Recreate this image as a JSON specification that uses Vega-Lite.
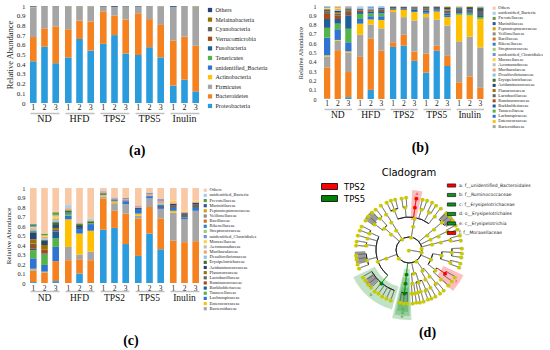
{
  "$schema": "https://vega.github.io/schema/vega-lite/v6.json",
  "padding": {"left": 4, "top": 2, "right": 0, "bottom": 0},
  "background": "white",
  "config": {"view": {"stroke": null}, "axis": {"grid": false}, "title": {"color": "#000"}},
  "datasets": {
    "taxA": [
      {"k": "p1", "t": "Proteobacteria", "i": 1}, {"k": "p2", "t": "Bacteroidetes", "i": 2}, {"k": "p3", "t": "Firmicutes", "i": 3},
      {"k": "p4", "t": "Actinobacteria", "i": 4}, {"k": "p5", "t": "unidentified_Bacteria", "i": 5}, {"k": "p6", "t": "Tenericutes", "i": 6},
      {"k": "p7", "t": "Fusobacteria", "i": 7}, {"k": "p8", "t": "Verrucomicrobia", "i": 8}, {"k": "p9", "t": "Cyanobacteria", "i": 9},
      {"k": "p10", "t": "Melainabacteria", "i": 10}, {"k": "p11", "t": "Others", "i": 11}
    ],
    "taxB": [
      {"k": "s1", "t": "Enterobacteriaceae", "i": 1}, {"k": "s2", "t": "Porphyromonadaceae", "i": 2}, {"k": "s3", "t": "Bacteroidaceae", "i": 3},
      {"k": "s4", "t": "Enterococcaceae", "i": 4}, {"k": "s5", "t": "Lachnospiraceae", "i": 5}, {"k": "s6", "t": "Tannerellaceae", "i": 6},
      {"k": "s7", "t": "Burkholderiaceae", "i": 7}, {"k": "s8", "t": "Ruminococcaceae", "i": 8}, {"k": "s9", "t": "Lactobacillaceae", "i": 9},
      {"k": "s10", "t": "Planococcaceae", "i": 10}, {"k": "s11", "t": "Acidaminococcaceae", "i": 11}, {"k": "s12", "t": "Erysipelotrichaceae", "i": 12},
      {"k": "s13", "t": "Desulfovibrionaceae", "i": 13}, {"k": "s14", "t": "Muribaculaceae", "i": 14}, {"k": "s15", "t": "Aeromonadaceae", "i": 15},
      {"k": "s16", "t": "Moraxellaceae", "i": 16}, {"k": "s17", "t": "unidentified_Clostridiales", "i": 17}, {"k": "s18", "t": "Streptococcaceae", "i": 18},
      {"k": "s19", "t": "Rikenellaceae", "i": 19}, {"k": "s20", "t": "Bacillaceae", "i": 20}, {"k": "s21", "t": "Veillonellaceae", "i": 21},
      {"k": "s22", "t": "Peptostreptococcaceae", "i": 22}, {"k": "s23", "t": "Marinifilaceae", "i": 23}, {"k": "s24", "t": "Prevotellaceae", "i": 24},
      {"k": "s25", "t": "unidentified_Bacteria", "i": 25}, {"k": "s26", "t": "Others", "i": 26}
    ],
    "phylum": [
      {"g": "ND", "r": "1", "p1": 0.43, "p2": 0.25, "p3": 0.305, "p4": 0.003, "p5": 0.004, "p6": 0.002, "p11": 0.006},
      {"g": "ND", "r": "2", "p1": 0.58, "p2": 0.19, "p3": 0.222, "p4": 0.004, "p11": 0.004},
      {"g": "ND", "r": "3", "p1": 0.41, "p2": 0.38, "p3": 0.202, "p4": 0.004, "p11": 0.004},
      {"g": "HFD", "r": "1", "p1": 0.47, "p2": 0.29, "p3": 0.236, "p4": 0.002, "p11": 0.002},
      {"g": "HFD", "r": "2", "p1": 0.66, "p2": 0.19, "p3": 0.146, "p4": 0.002, "p11": 0.002},
      {"g": "HFD", "r": "3", "p1": 0.54, "p2": 0.30, "p3": 0.155, "p4": 0.003, "p11": 0.002},
      {"g": "TPS2", "r": "1", "p1": 0.61, "p2": 0.335, "p3": 0.05, "p11": 0.005},
      {"g": "TPS2", "r": "2", "p1": 0.70, "p2": 0.20, "p3": 0.088, "p5": 0.004, "p11": 0.008},
      {"g": "TPS2", "r": "3", "p1": 0.51, "p2": 0.35, "p3": 0.136, "p11": 0.004},
      {"g": "TPS5", "r": "1", "p1": 0.495, "p2": 0.43, "p3": 0.07, "p11": 0.005},
      {"g": "TPS5", "r": "2", "p1": 0.575, "p2": 0.29, "p3": 0.13, "p4": 0.002, "p11": 0.003},
      {"g": "TPS5", "r": "3", "p1": 0.47, "p2": 0.335, "p3": 0.19, "p4": 0.003, "p11": 0.002},
      {"g": "Inulin", "r": "1", "p1": 0.18, "p2": 0.465, "p3": 0.343, "p5": 0.004, "p11": 0.008},
      {"g": "Inulin", "r": "2", "p1": 0.24, "p2": 0.445, "p3": 0.31, "p4": 0.002, "p11": 0.003},
      {"g": "Inulin", "r": "3", "p1": 0.12, "p2": 0.47, "p3": 0.405, "p4": 0.003, "p11": 0.002}
    ],
    "famB": [
      {"g": "ND", "r": "1", "s1": 0.005, "s2": 0.335, "s3": 0.117, "s4": 0.013, "s5": 0.19, "s6": 0.105, "s7": 0.095, "s8": 0.055, "s9": 0.02, "s10": 0.01, "s11": 0.01, "s12": 0.01, "s14": 0.008, "s16": 0.007, "s19": 0.006, "s21": 0.005, "s24": 0.004, "s25": 0.005},
      {"g": "ND", "r": "2", "s2": 0.525, "s3": 0.102, "s4": 0.008, "s5": 0.115, "s6": 0.06, "s7": 0.05, "s8": 0.04, "s9": 0.02, "s10": 0.015, "s11": 0.012, "s13": 0.01, "s14": 0.01, "s16": 0.01, "s18": 0.008, "s20": 0.005, "s22": 0.005, "s26": 0.005},
      {"g": "ND", "r": "3", "s1": 0.02, "s2": 0.27, "s3": 0.21, "s4": 0.012, "s5": 0.098, "s6": 0.145, "s7": 0.145, "s8": 0.025, "s9": 0.02, "s10": 0.01, "s11": 0.01, "s12": 0.01, "s14": 0.008, "s17": 0.007, "s19": 0.005, "s26": 0.005},
      {"g": "HFD", "r": "1", "s2": 0.453, "s3": 0.237, "s4": 0.12, "s5": 0.05, "s6": 0.055, "s7": 0.02, "s8": 0.015, "s9": 0.01, "s11": 0.01, "s13": 0.015, "s25": 0.01, "s26": 0.005},
      {"g": "HFD", "r": "2", "s1": 0.098, "s2": 0.554, "s3": 0.148, "s4": 0.055, "s5": 0.035, "s6": 0.03, "s7": 0.02, "s8": 0.015, "s9": 0.01, "s13": 0.015, "s17": 0.01, "s25": 0.01},
      {"g": "HFD", "r": "3", "s2": 0.52, "s3": 0.24, "s4": 0.09, "s5": 0.04, "s6": 0.03, "s7": 0.025, "s8": 0.015, "s9": 0.01, "s11": 0.01, "s13": 0.01, "s25": 0.01},
      {"g": "TPS2", "r": "1", "s1": 0.56, "s2": 0.05, "s3": 0.325, "s4": 0.025, "s7": 0.01, "s9": 0.01, "s11": 0.01, "s12": 0.005, "s26": 0.005},
      {"g": "TPS2", "r": "2", "s1": 0.573, "s2": 0.117, "s3": 0.19, "s4": 0.08, "s7": 0.01, "s9": 0.01, "s11": 0.01, "s14": 0.005, "s26": 0.005},
      {"g": "TPS2", "r": "3", "s1": 0.41, "s2": 0.1, "s3": 0.335, "s4": 0.09, "s5": 0.01, "s7": 0.015, "s9": 0.015, "s11": 0.01, "s12": 0.008, "s26": 0.007},
      {"g": "TPS5", "r": "1", "s1": 0.283, "s2": 0.207, "s3": 0.39, "s4": 0.037, "s5": 0.015, "s7": 0.02, "s9": 0.015, "s10": 0.01, "s11": 0.01, "s12": 0.008, "s26": 0.005},
      {"g": "TPS5", "r": "2", "s1": 0.518, "s2": 0.054, "s3": 0.283, "s4": 0.085, "s5": 0.01, "s7": 0.015, "s9": 0.015, "s11": 0.01, "s12": 0.005, "s26": 0.005},
      {"g": "TPS5", "r": "3", "s1": 0.355, "s2": 0.109, "s3": 0.326, "s4": 0.09, "s5": 0.02, "s7": 0.02, "s9": 0.03, "s10": 0.015, "s11": 0.015, "s12": 0.01, "s26": 0.01},
      {"g": "Inulin", "r": "1", "s2": 0.18, "s3": 0.44, "s4": 0.285, "s6": 0.015, "s7": 0.015, "s9": 0.025, "s11": 0.015, "s12": 0.01, "s13": 0.008, "s26": 0.007},
      {"g": "Inulin", "r": "2", "s2": 0.243, "s3": 0.427, "s4": 0.228, "s6": 0.02, "s7": 0.015, "s9": 0.03, "s11": 0.015, "s12": 0.012, "s26": 0.01},
      {"g": "Inulin", "r": "3", "s2": 0.12, "s3": 0.435, "s4": 0.307, "s6": 0.02, "s7": 0.02, "s9": 0.045, "s11": 0.02, "s12": 0.018, "s13": 0.008, "s26": 0.007}
    ],
    "famC": [
      {"g": "ND", "r": "1", "s1": 0.01, "s2": 0.12, "s3": 0.015, "s4": 0.005, "s5": 0.11, "s6": 0.085, "s7": 0.015, "s8": 0.04, "s9": 0.015, "s10": 0.045, "s11": 0.07, "s12": 0.015, "s13": 0.015, "s14": 0.01, "s15": 0.01, "s16": 0.01, "s17": 0.01, "s19": 0.01, "s24": 0.01, "s26": 0.38},
      {"g": "ND", "r": "2", "s2": 0.11, "s3": 0.01, "s5": 0.07, "s6": 0.11, "s7": 0.01, "s8": 0.04, "s10": 0.05, "s11": 0.045, "s12": 0.01, "s13": 0.015, "s14": 0.015, "s16": 0.01, "s18": 0.01, "s24": 0.015, "s26": 0.48},
      {"g": "ND", "r": "3", "s1": 0.02, "s2": 0.21, "s5": 0.15, "s6": 0.09, "s7": 0.07, "s9": 0.02, "s10": 0.02, "s11": 0.03, "s12": 0.03, "s13": 0.02, "s14": 0.02, "s16": 0.02, "s18": 0.015, "s21": 0.01, "s24": 0.02, "s26": 0.255},
      {"g": "HFD", "r": "1", "s2": 0.24, "s3": 0.14, "s4": 0.29, "s5": 0.04, "s6": 0.02, "s7": 0.01, "s12": 0.025, "s14": 0.015, "s15": 0.01, "s25": 0.03, "s26": 0.18},
      {"g": "HFD", "r": "2", "s1": 0.10, "s2": 0.15, "s3": 0.05, "s4": 0.22, "s5": 0.04, "s7": 0.02, "s11": 0.02, "s12": 0.02, "s14": 0.015, "s25": 0.015, "s26": 0.35},
      {"g": "HFD", "r": "3", "s2": 0.24, "s3": 0.09, "s4": 0.22, "s5": 0.07, "s6": 0.01, "s12": 0.02, "s14": 0.01, "s25": 0.02, "s26": 0.32},
      {"g": "TPS2", "r": "1", "s1": 0.56, "s2": 0.33, "s3": 0.02, "s4": 0.015, "s5": 0.01, "s12": 0.01, "s14": 0.01, "s17": 0.01, "s26": 0.035},
      {"g": "TPS2", "r": "2", "s1": 0.58, "s2": 0.18, "s3": 0.08, "s4": 0.02, "s5": 0.01, "s11": 0.01, "s14": 0.01, "s17": 0.01, "s26": 0.10},
      {"g": "TPS2", "r": "3", "s1": 0.41, "s2": 0.32, "s3": 0.10, "s5": 0.03, "s7": 0.01, "s14": 0.015, "s17": 0.01, "s26": 0.105},
      {"g": "TPS5", "r": "1", "s1": 0.285, "s2": 0.395, "s3": 0.03, "s4": 0.02, "s5": 0.04, "s7": 0.01, "s11": 0.01, "s14": 0.015, "s17": 0.011, "s26": 0.184},
      {"g": "TPS5", "r": "2", "s1": 0.52, "s2": 0.28, "s3": 0.09, "s5": 0.02, "s7": 0.01, "s14": 0.015, "s17": 0.012, "s26": 0.053},
      {"g": "TPS5", "r": "3", "s1": 0.355, "s2": 0.325, "s3": 0.10, "s5": 0.02, "s9": 0.02, "s13": 0.02, "s14": 0.025, "s17": 0.018, "s26": 0.117},
      {"g": "Inulin", "r": "1", "s2": 0.445, "s3": 0.295, "s4": 0.02, "s5": 0.03, "s9": 0.03, "s11": 0.015, "s14": 0.015, "s16": 0.016, "s26": 0.134},
      {"g": "Inulin", "r": "2", "s2": 0.43, "s3": 0.24, "s5": 0.02, "s9": 0.04, "s11": 0.01, "s14": 0.01, "s16": 0.01, "s26": 0.24},
      {"g": "Inulin", "r": "3", "s2": 0.44, "s3": 0.32, "s5": 0.03, "s9": 0.04, "s11": 0.015, "s14": 0.01, "s16": 0.011, "s26": 0.134}
    ],
    "spokes": [
      {"a": 0, "r0": 0, "r1": 0, "c": "n"}, {"a": 100, "r0": 0, "r1": 13, "c": "n"},
      {"a": 10, "r0": 13, "r1": 13, "c": "n"}, {"a": 80, "r0": 13, "r1": 13, "c": "n"}, {"a": 145, "r0": 13, "r1": 13, "c": "n"}, {"a": 230, "r0": 13, "r1": 13, "c": "n"}, {"a": 328, "r0": 13, "r1": 13, "c": "n"},
      {"a": 10, "r0": 13, "r1": 24, "c": "n"}, {"a": 10, "r0": 24, "r1": 33, "c": "n"},
      {"a": -20, "r0": 33, "r1": 43, "c": "n"}, {"a": -5, "r0": 33, "r1": 43, "c": "n"}, {"a": 8, "r0": 33, "r1": 43, "c": "TPS2"}, {"a": 17, "r0": 33, "r1": 43, "c": "n"}, {"a": 28, "r0": 33, "r1": 43, "c": "n"}, {"a": 37, "r0": 33, "r1": 43, "c": "n"},
      {"a": -25, "r0": 43, "r1": 53, "c": "n"}, {"a": -20, "r0": 43, "r1": 53, "c": "n"}, {"a": -15, "r0": 43, "r1": 53, "c": "n"}, {"a": -8, "r0": 43, "r1": 53, "c": "n"}, {"a": -3, "r0": 43, "r1": 53, "c": "n"}, {"a": 8, "r0": 43, "r1": 53, "c": "TPS2"}, {"a": 15, "r0": 43, "r1": 53, "c": "n"}, {"a": 20, "r0": 43, "r1": 53, "c": "n"}, {"a": 26, "r0": 43, "r1": 53, "c": "n"}, {"a": 31, "r0": 43, "r1": 53, "c": "n"}, {"a": 37, "r0": 43, "r1": 53, "c": "n"},
      {"a": 50, "r0": 13, "r1": 24, "c": "n"}, {"a": 64, "r0": 13, "r1": 24, "c": "n"}, {"a": 76, "r0": 13, "r1": 24, "c": "n"}, {"a": 113, "r0": 13, "r1": 24, "c": "n"},
      {"a": 50, "r0": 24, "r1": 33, "c": "n"}, {"a": 64, "r0": 24, "r1": 33, "c": "n"}, {"a": 76, "r0": 24, "r1": 33, "c": "n"}, {"a": 99, "r0": 24, "r1": 33, "c": "n"}, {"a": 127, "r0": 24, "r1": 33, "c": "n"},
      {"a": 50, "r0": 33, "r1": 43, "c": "n"}, {"a": 64, "r0": 33, "r1": 43, "c": "n"}, {"a": 76, "r0": 33, "r1": 43, "c": "n"}, {"a": 93, "r0": 33, "r1": 43, "c": "n"}, {"a": 106, "r0": 33, "r1": 43, "c": "n"}, {"a": 123, "r0": 33, "r1": 43, "c": "TPS2"}, {"a": 132, "r0": 33, "r1": 43, "c": "n"},
      {"a": 45, "r0": 43, "r1": 53, "c": "n"}, {"a": 50, "r0": 43, "r1": 53, "c": "n"}, {"a": 55, "r0": 43, "r1": 53, "c": "n"}, {"a": 62, "r0": 43, "r1": 53, "c": "n"}, {"a": 67, "r0": 43, "r1": 53, "c": "n"}, {"a": 74, "r0": 43, "r1": 53, "c": "n"}, {"a": 79, "r0": 43, "r1": 53, "c": "n"}, {"a": 88, "r0": 43, "r1": 53, "c": "n"}, {"a": 93, "r0": 43, "r1": 53, "c": "n"}, {"a": 98, "r0": 43, "r1": 53, "c": "n"}, {"a": 104, "r0": 43, "r1": 53, "c": "n"}, {"a": 109, "r0": 43, "r1": 53, "c": "n"}, {"a": 120, "r0": 43, "r1": 53, "c": "n"}, {"a": 126, "r0": 43, "r1": 53, "c": "n"}, {"a": 132, "r0": 43, "r1": 53, "c": "n"},
      {"a": 145, "r0": 13, "r1": 24, "c": "n"}, {"a": 141, "r0": 24, "r1": 33, "c": "n"}, {"a": 150, "r0": 24, "r1": 33, "c": "n"}, {"a": 141, "r0": 33, "r1": 43, "c": "n"}, {"a": 150, "r0": 33, "r1": 43, "c": "n"},
      {"a": 139, "r0": 43, "r1": 53, "c": "n"}, {"a": 144, "r0": 43, "r1": 53, "c": "n"}, {"a": 150, "r0": 43, "r1": 53, "c": "n"},
      {"a": 168, "r0": 13, "r1": 24, "c": "n"}, {"a": 186, "r0": 13, "r1": 24, "c": "TPS5"}, {"a": 250, "r0": 13, "r1": 24, "c": "n"}, {"a": 312, "r0": 13, "r1": 24, "c": "n"},
      {"a": 163, "r0": 24, "r1": 33, "c": "n"}, {"a": 174, "r0": 24, "r1": 33, "c": "n"}, {"a": 186, "r0": 24, "r1": 33, "c": "TPS5"}, {"a": 250, "r0": 24, "r1": 33, "c": "n"}, {"a": 312, "r0": 24, "r1": 33, "c": "n"},
      {"a": 157, "r0": 33, "r1": 43, "c": "n"}, {"a": 164, "r0": 33, "r1": 43, "c": "n"}, {"a": 168, "r0": 33, "r1": 43, "c": "n"}, {"a": 172, "r0": 33, "r1": 43, "c": "n"}, {"a": 176, "r0": 33, "r1": 43, "c": "n"}, {"a": 186, "r0": 33, "r1": 43, "c": "TPS5"}, {"a": 220, "r0": 33, "r1": 43, "c": "TPS5"}, {"a": 257, "r0": 33, "r1": 43, "c": "n"}, {"a": 277, "r0": 33, "r1": 43, "c": "n"}, {"a": 286, "r0": 33, "r1": 43, "c": "n"}, {"a": 294, "r0": 33, "r1": 43, "c": "n"}, {"a": 307, "r0": 33, "r1": 43, "c": "n"}, {"a": 318, "r0": 33, "r1": 43, "c": "n"},
      {"a": 155, "r0": 43, "r1": 53, "c": "n"}, {"a": 159, "r0": 43, "r1": 53, "c": "n"}, {"a": 164, "r0": 43, "r1": 53, "c": "n"}, {"a": 168, "r0": 43, "r1": 53, "c": "n"}, {"a": 172, "r0": 43, "r1": 53, "c": "n"}, {"a": 176, "r0": 43, "r1": 53, "c": "n"}, {"a": 182, "r0": 43, "r1": 53, "c": "n"}, {"a": 186, "r0": 43, "r1": 53, "c": "n"}, {"a": 190, "r0": 43, "r1": 53, "c": "n"},
      {"a": 200, "r0": 43, "r1": 53, "c": "n"}, {"a": 205, "r0": 43, "r1": 53, "c": "n"}, {"a": 210, "r0": 43, "r1": 53, "c": "n"}, {"a": 215, "r0": 43, "r1": 53, "c": "n"}, {"a": 220, "r0": 43, "r1": 53, "c": "n"}, {"a": 225, "r0": 43, "r1": 53, "c": "n"}, {"a": 230, "r0": 43, "r1": 53, "c": "n"}, {"a": 235, "r0": 43, "r1": 53, "c": "n"}, {"a": 240, "r0": 43, "r1": 53, "c": "n"},
      {"a": 250, "r0": 43, "r1": 53, "c": "n"}, {"a": 255, "r0": 43, "r1": 53, "c": "n"}, {"a": 260, "r0": 43, "r1": 53, "c": "n"}, {"a": 265, "r0": 43, "r1": 53, "c": "n"}, {"a": 275, "r0": 43, "r1": 53, "c": "n"}, {"a": 280, "r0": 43, "r1": 53, "c": "n"}, {"a": 286, "r0": 43, "r1": 53, "c": "n"}, {"a": 292, "r0": 43, "r1": 53, "c": "n"}, {"a": 297, "r0": 43, "r1": 53, "c": "n"}, {"a": 305, "r0": 43, "r1": 53, "c": "n"}, {"a": 310, "r0": 43, "r1": 53, "c": "n"}, {"a": 316, "r0": 43, "r1": 53, "c": "n"}, {"a": 321, "r0": 43, "r1": 53, "c": "n"},
      {"a": 328, "r0": 13, "r1": 24, "c": "n"}, {"a": 328, "r0": 24, "r1": 33, "c": "n"}, {"a": 328, "r0": 33, "r1": 43, "c": "n"}, {"a": 328, "r0": 43, "r1": 53, "c": "n"}
    ],
    "arcs": [
      {"a0": 0, "a1": 360, "r": 13},
      {"a0": 99, "a1": 127, "r": 24}, {"a0": 141, "a1": 150, "r": 24}, {"a0": 163, "a1": 174, "r": 24},
      {"a0": -20, "a1": 37, "r": 33}, {"a0": 93, "a1": 106, "r": 33}, {"a0": 123, "a1": 132, "r": 33}, {"a0": 157, "a1": 168, "r": 33}, {"a0": 172, "a1": 176, "r": 33}, {"a0": 220, "a1": 294, "r": 33}, {"a0": 307, "a1": 318, "r": 33},
      {"a0": -25, "a1": -15, "r": 43}, {"a0": -8, "a1": -3, "r": 43}, {"a0": 15, "a1": 20, "r": 43}, {"a0": 26, "a1": 31, "r": 43}, {"a0": 45, "a1": 55, "r": 43}, {"a0": 62, "a1": 67, "r": 43}, {"a0": 74, "a1": 79, "r": 43}, {"a0": 88, "a1": 98, "r": 43}, {"a0": 104, "a1": 109, "r": 43}, {"a0": 120, "a1": 126, "r": 43}, {"a0": 139, "a1": 144, "r": 43}, {"a0": 155, "a1": 159, "r": 43}, {"a0": 182, "a1": 190, "r": 43}, {"a0": 200, "a1": 240, "r": 43}, {"a0": 250, "a1": 265, "r": 43}, {"a0": 275, "a1": 280, "r": 43}, {"a0": 292, "a1": 297, "r": 43}, {"a0": 305, "a1": 310, "r": 43}, {"a0": 316, "a1": 321, "r": 43}
    ],
    "collapsed": [
      {"a0": 44, "a1": 58, "ri": 44, "ro": 54}, {"a0": 226, "a1": 236, "ri": 44, "ro": 54}, {"a0": 256, "a1": 268, "ri": 44, "ro": 54}, {"a0": 306, "a1": 316, "ri": 44, "ro": 54}
    ],
    "sectors": [
      {"lab": "e: c__Erysipelotrichia", "l": "e", "a0": 178, "a1": 194, "ri": 19, "ro": 70, "am": 186},
      {"lab": "d: o__Erysipelotrichales", "l": "d", "a0": 179.5, "a1": 192.5, "ri": 28, "ro": 66, "am": 186},
      {"lab": "c: f__Erysipelotrichaceae", "l": "c", "a0": 181, "a1": 191, "ri": 38, "ro": 62, "am": 186},
      {"lab": "b: f__Ruminococcaceae", "l": "b", "a0": 196, "a1": 244, "ri": 38, "ro": 62, "am": 220},
      {"lab": "a: f__unidentified_Bacteroidales", "l": "a", "a0": 3, "a1": 13, "ri": 30, "ro": 60, "am": 8},
      {"lab": "f: f__Moraxellaceae", "l": "f", "a0": 115, "a1": 133, "ri": 38, "ro": 60, "am": 124}
    ]
  },
  "resolve": {"scale": {"color": "independent", "fill": "independent", "stroke": "independent", "x": "independent", "y": "independent"}},
  "spacing": 28,
  "hconcat": [
    {
      "spacing": 27,
      "resolve": {"scale": {"color": "independent", "x": "independent", "y": "independent"}},
      "vconcat": [
        {
          "data": {"name": "phylum"},
          "transform": [
            {"fold": ["p1", "p2", "p3", "p4", "p5", "p6", "p7", "p8", "p9", "p10", "p11"], "as": ["k", "v"]},
            {"filter": "datum.v > 0"},
            {"lookup": "k", "from": {"data": {"name": "taxA"}, "key": "k", "fields": ["t", "i"]}}
          ],
          "title": {"text": "(a)", "orient": "bottom", "font": "Liberation Serif", "fontSize": 14, "fontWeight": "bold", "offset": 20, "anchor": "middle"},
          "facet": {"column": {"field": "g", "type": "nominal", "title": null, "sort": ["ND", "HFD", "TPS2", "TPS5", "Inulin"],
            "header": {"labelOrient": "bottom", "labelFont": "Liberation Serif", "labelFontSize": 10, "labelPadding": 1, "labelColor": "#111"}}},
          "spacing": 5,
          "spec": {
            "width": 29, "height": 97,
            "mark": {"type": "bar"},
            "encoding": {
              "x": {"field": "r", "type": "nominal", "title": null, "scale": {"paddingInner": 0.41, "paddingOuter": 0},
                "axis": {"orient": "bottom", "offset": 10, "ticks": false, "domainColor": "#c0c0c0", "domainWidth": 1.5, "labelAngle": 0, "labelPadding": -9.5, "labelFont": "Liberation Serif", "labelFontSize": 8, "labelColor": "#222"}},
              "y": {"field": "v", "type": "quantitative", "stack": "zero", "scale": {"domain": [0, 1], "nice": false},
                "axis": {"title": "Relative Abundance", "values": [0, 0.1, 0.2, 0.3, 0.4, 0.5, 0.6, 0.7, 0.8, 0.9, 1], "format": "~g", "ticks": false, "domain": false, "grid": false, "labelFont": "Liberation Serif", "labelFontSize": 7, "labelPadding": 5, "labelColor": "#222", "titleFont": "Liberation Serif", "titleFontSize": 8.5, "titleFontWeight": "normal", "titlePadding": 2, "titleColor": "#222"}},
              "color": {"field": "t", "type": "nominal",
                "scale": {"domain": ["Proteobacteria", "Bacteroidetes", "Firmicutes", "Actinobacteria", "unidentified_Bacteria", "Tenericutes", "Fusobacteria", "Verrucomicrobia", "Cyanobacteria", "Melainabacteria", "Others"],
                  "range": ["#2A9BDC", "#F5821F", "#A5A5A5", "#FFC000", "#2E74D0", "#55B447", "#1F5F99", "#A84A14", "#636363", "#997300", "#264478"]},
                "legend": {"title": null, "orient": "right", "offset": 7, "padding": 1, "symbolType": "square", "symbolSize": 18, "symbolStrokeWidth": 0, "labelFont": "Liberation Serif", "labelFontSize": 6, "labelColor": "#222", "labelOffset": 2.5, "rowPadding": 3.6,
                  "values": ["Others", "Melainabacteria", "Cyanobacteria", "Verrucomicrobia", "Fusobacteria", "Tenericutes", "unidentified_Bacteria", "Actinobacteria", "Firmicutes", "Bacteroidetes", "Proteobacteria"]}},
              "order": {"field": "i", "type": "quantitative"}
            }
          }
        },
        {
          "data": {"name": "famC"},
          "transform": [
            {"fold": ["s1", "s2", "s3", "s4", "s5", "s6", "s7", "s8", "s9", "s10", "s11", "s12", "s13", "s14", "s15", "s16", "s17", "s18", "s19", "s20", "s21", "s22", "s23", "s24", "s25", "s26"], "as": ["k", "v"]},
            {"filter": "datum.v > 0"},
            {"lookup": "k", "from": {"data": {"name": "taxB"}, "key": "k", "fields": ["t", "i"]}}
          ],
          "title": {"text": "(c)", "orient": "bottom", "font": "Liberation Serif", "fontSize": 14, "fontWeight": "bold", "offset": 23, "anchor": "middle"},
          "facet": {"column": {"field": "g", "type": "nominal", "title": null, "sort": ["ND", "HFD", "TPS2", "TPS5", "Inulin"],
            "header": {"labelOrient": "bottom", "labelFont": "Liberation Serif", "labelFontSize": 9.5, "labelPadding": 1, "labelColor": "#111"}}},
          "spacing": 5,
          "spec": {
            "width": 29, "height": 95,
            "mark": {"type": "bar"},
            "encoding": {
              "x": {"field": "r", "type": "nominal", "title": null, "scale": {"paddingInner": 0.41, "paddingOuter": 0},
                "axis": {"orient": "bottom", "offset": 8, "ticks": false, "domainColor": "#c0c0c0", "domainWidth": 1.5, "labelAngle": 0, "labelPadding": -7, "labelFont": "Liberation Serif", "labelFontSize": 7.5, "labelColor": "#222"}},
              "y": {"field": "v", "type": "quantitative", "stack": "zero", "scale": {"domain": [0, 1], "nice": false},
                "axis": {"title": "Relative Abundance", "values": [0, 0.1, 0.2, 0.3, 0.4, 0.5, 0.6, 0.7, 0.8, 0.9, 1], "format": "~g", "ticks": false, "domain": false, "grid": false, "labelFont": "Liberation Serif", "labelFontSize": 6.5, "labelPadding": 5, "labelColor": "#222", "titleFont": "Liberation Serif", "titleFontSize": 7, "titleFontWeight": "normal", "titlePadding": 5, "titleColor": "#222"}},
              "color": {"field": "t", "type": "nominal",
                "scale": {"domain": ["Enterobacteriaceae", "Porphyromonadaceae", "Bacteroidaceae", "Enterococcaceae", "Lachnospiraceae", "Tannerellaceae", "Burkholderiaceae", "Ruminococcaceae", "Lactobacillaceae", "Planococcaceae", "Acidaminococcaceae", "Erysipelotrichaceae", "Desulfovibrionaceae", "Muribaculaceae", "Aeromonadaceae", "Moraxellaceae", "unidentified_Clostridiales", "Streptococcaceae", "Rikenellaceae", "Bacillaceae", "Veillonellaceae", "Peptostreptococcaceae", "Marinifilaceae", "Prevotellaceae", "unidentified_Bacteria", "Others"],
                  "range": ["#2A9BDC", "#F5821F", "#A5A5A5", "#FFC000", "#2E74D0", "#55B447", "#1F5F99", "#A84A14", "#636363", "#997300", "#264478", "#3F6F2A", "#8DC0E8", "#F4A070", "#BDBDBD", "#FFD040", "#6C93D6", "#9BCF72", "#2F82C8", "#E06A1A", "#8A8A8A", "#D4A000", "#2F559E", "#5E9A3A", "#A8CDEB", "#F9C8A4"]},
                "legend": {"title": null, "orient": "right", "offset": 4, "padding": 0, "symbolType": "square", "symbolSize": 10, "symbolStrokeWidth": 0, "labelFont": "Liberation Serif", "labelFontSize": 4.5, "labelColor": "#222", "labelOffset": 2, "rowPadding": 0.15,
                  "values": ["Others", "unidentified_Bacteria", "Prevotellaceae", "Marinifilaceae", "Peptostreptococcaceae", "Veillonellaceae", "Bacillaceae", "Rikenellaceae", "Streptococcaceae", "unidentified_Clostridiales", "Moraxellaceae", "Aeromonadaceae", "Muribaculaceae", "Desulfovibrionaceae", "Erysipelotrichaceae", "Acidaminococcaceae", "Planococcaceae", "Lactobacillaceae", "Ruminococcaceae", "Burkholderiaceae", "Tannerellaceae", "Lachnospiraceae", "Enterococcaceae", "Bacteroidaceae"]}},
              "order": {"field": "i", "type": "quantitative"}
            }
          }
        }
      ]
    },
    {
      "spacing": 13,
      "resolve": {"scale": {"color": "independent", "fill": "independent", "stroke": "independent", "x": "independent", "y": "independent"}},
      "vconcat": [
        {
          "data": {"name": "famB"},
          "transform": [
            {"fold": ["s1", "s2", "s3", "s4", "s5", "s6", "s7", "s8", "s9", "s10", "s11", "s12", "s13", "s14", "s15", "s16", "s17", "s18", "s19", "s20", "s21", "s22", "s23", "s24", "s25", "s26"], "as": ["k", "v"]},
            {"filter": "datum.v > 0"},
            {"lookup": "k", "from": {"data": {"name": "taxB"}, "key": "k", "fields": ["t", "i"]}}
          ],
          "title": {"text": "(b)", "orient": "bottom", "font": "Liberation Serif", "fontSize": 14, "fontWeight": "bold", "offset": 12, "anchor": "middle"},
          "facet": {"column": {"field": "g", "type": "nominal", "title": null, "sort": ["ND", "HFD", "TPS2", "TPS5", "Inulin"],
            "header": {"labelOrient": "bottom", "labelFont": "Liberation Serif", "labelFontSize": 9.5, "labelPadding": 1, "labelColor": "#111"}}},
          "spacing": 5,
          "spec": {
            "width": 27.5, "height": 93,
            "mark": {"type": "bar"},
            "encoding": {
              "x": {"field": "r", "type": "nominal", "title": null, "scale": {"paddingInner": 0.41, "paddingOuter": 0},
                "axis": {"orient": "bottom", "offset": 10, "ticks": false, "domainColor": "#c0c0c0", "domainWidth": 1.5, "labelAngle": 0, "labelPadding": -9.5, "labelFont": "Liberation Serif", "labelFontSize": 7.5, "labelColor": "#222"}},
              "y": {"field": "v", "type": "quantitative", "stack": "zero", "scale": {"domain": [0, 1], "nice": false},
                "axis": {"title": "Relative Abundance", "values": [0, 0.1, 0.2, 0.3, 0.4, 0.5, 0.6, 0.7, 0.8, 0.9, 1], "format": "~g", "ticks": false, "domain": false, "grid": false, "labelFont": "Liberation Serif", "labelFontSize": 6, "labelPadding": 8, "labelColor": "#222", "titleFont": "Liberation Serif", "titleFontSize": 6.5, "titleFontWeight": "normal", "titlePadding": 5, "titleColor": "#222"}},
              "color": {"field": "t", "type": "nominal",
                "scale": {"domain": ["Enterobacteriaceae", "Porphyromonadaceae", "Bacteroidaceae", "Enterococcaceae", "Lachnospiraceae", "Tannerellaceae", "Burkholderiaceae", "Ruminococcaceae", "Lactobacillaceae", "Planococcaceae", "Acidaminococcaceae", "Erysipelotrichaceae", "Desulfovibrionaceae", "Muribaculaceae", "Aeromonadaceae", "Moraxellaceae", "unidentified_Clostridiales", "Streptococcaceae", "Rikenellaceae", "Bacillaceae", "Veillonellaceae", "Peptostreptococcaceae", "Marinifilaceae", "Prevotellaceae", "unidentified_Bacteria", "Others"],
                  "range": ["#2A9BDC", "#F5821F", "#A5A5A5", "#FFC000", "#2E74D0", "#55B447", "#1F5F99", "#A84A14", "#636363", "#997300", "#264478", "#3F6F2A", "#8DC0E8", "#F4A070", "#BDBDBD", "#FFD040", "#6C93D6", "#9BCF72", "#2F82C8", "#E06A1A", "#8A8A8A", "#D4A000", "#2F559E", "#5E9A3A", "#A8CDEB", "#F9C8A4"]},
                "legend": {"title": null, "orient": "right", "offset": 8, "padding": 0, "symbolType": "square", "symbolSize": 9, "symbolStrokeWidth": 0, "labelFont": "Liberation Serif", "labelFontSize": 4.3, "labelColor": "#222", "labelOffset": 2, "rowPadding": 0.15,
                  "values": ["Others", "unidentified_Bacteria", "Prevotellaceae", "Marinifilaceae", "Peptostreptococcaceae", "Veillonellaceae", "Bacillaceae", "Rikenellaceae", "Streptococcaceae", "unidentified_Clostridiales", "Moraxellaceae", "Aeromonadaceae", "Muribaculaceae", "Desulfovibrionaceae", "Erysipelotrichaceae", "Acidaminococcaceae", "Planococcaceae", "Lactobacillaceae", "Ruminococcaceae", "Burkholderiaceae", "Tannerellaceae", "Lachnospiraceae", "Enterococcaceae", "Bacteroidaceae"]}},
              "order": {"field": "i", "type": "quantitative"}
            }
          }
        },
        {
          "title": {"text": "(d)", "orient": "bottom", "font": "Liberation Serif", "fontSize": 14, "fontWeight": "bold", "offset": 6, "anchor": "middle"},
          "resolve": {"scale": {"color": "independent", "fill": "independent", "stroke": "independent"}},
          "vconcat": [
            {
              "width": 170, "height": 138,
              "title": {"text": "Cladogram", "font": "DejaVu Sans", "fontSize": 10, "fontWeight": "normal", "offset": 3, "anchor": "middle", "color": "#000"},
              "layer": [
                {
                  "data": {"name": "sectors"},
                  "mark": {"type": "arc", "fillOpacity": 0.26, "strokeWidth": 0},
                  "encoding": {
                    "theta": {"field": "a0", "type": "quantitative", "stack": null, "scale": {"type": "linear", "domain": [0, 360], "range": [0, 6.283185307], "zero": false}},
                    "theta2": {"field": "a1"},
                    "radius": {"field": "ro", "type": "quantitative", "scale": {"type": "linear", "domain": [0, 70], "range": [0, 70], "zero": true}},
                    "radius2": {"field": "ri"},
                    "fill": {"field": "lab", "type": "nominal",
                      "scale": {"domain": ["a: f__unidentified_Bacteroidales", "b: f__Ruminococcaceae", "c: f__Erysipelotrichaceae", "d: o__Erysipelotrichales", "e: c__Erysipelotrichia", "f: f__Moraxellaceae"], "range": ["#ff0000", "#109020", "#109020", "#109020", "#109020", "#ff0000"]},
                      "legend": {"title": null, "orient": "none", "legendX": 123, "legendY": 0, "symbolType": "M-1,-0.38H1V0.38H-1Z", "symbolSize": 70, "symbolStrokeColor": "#000", "symbolStrokeWidth": 0.6, "symbolOpacity": 1, "labelFont": "DejaVu Sans", "labelFontSize": 4.5, "labelOffset": 3, "rowPadding": 1.5, "labelColor": "#222"}}
                  }
                },
                {
                  "data": {"name": "collapsed"},
                  "mark": {"type": "arc", "fill": "#9a9a9a", "stroke": "#777", "strokeWidth": 0.4},
                  "encoding": {
                    "theta": {"field": "a0", "type": "quantitative", "stack": null, "scale": {"type": "linear", "domain": [0, 360], "range": [0, 6.283185307], "zero": false}},
                    "theta2": {"field": "a1"},
                    "radius": {"field": "ro", "type": "quantitative", "scale": {"type": "linear", "domain": [0, 70], "range": [0, 70], "zero": true}},
                    "radius2": {"field": "ri"}
                  }
                },
                {
                  "data": {"name": "arcs"},
                  "mark": {"type": "arc", "filled": false, "stroke": "#222", "strokeWidth": 0.9},
                  "encoding": {
                    "theta": {"field": "a0", "type": "quantitative", "stack": null, "scale": {"type": "linear", "domain": [0, 360], "range": [0, 6.283185307], "zero": false}},
                    "theta2": {"field": "a1"},
                    "radius": {"field": "r", "type": "quantitative", "scale": {"type": "linear", "domain": [0, 70], "range": [0, 70], "zero": true}},
                    "radius2": {"field": "r"}
                  }
                },
                {
                  "data": {"name": "spokes"},
                  "mark": {"type": "arc", "filled": false, "strokeWidth": 0.6},
                  "encoding": {
                    "theta": {"field": "a", "type": "quantitative", "stack": null, "scale": {"type": "linear", "domain": [0, 360], "range": [0, 6.283185307], "zero": false}},
                    "theta2": {"field": "a"},
                    "radius": {"field": "r1", "type": "quantitative", "scale": {"type": "linear", "domain": [0, 70], "range": [0, 70], "zero": true}},
                    "radius2": {"field": "r0"},
                    "stroke": {"field": "c", "type": "nominal", "scale": {"domain": ["TPS2", "TPS5", "n"], "range": ["#ee0000", "#008800", "#666666"]}, "legend": null}
                  }
                },
                {
                  "data": {"name": "spokes"},
                  "mark": {"type": "text", "text": "●", "fontSize": 5, "font": "DejaVu Sans", "baseline": "middle", "align": "center"},
                  "encoding": {
                    "theta": {"field": "a", "type": "quantitative", "stack": null, "scale": {"type": "linear", "domain": [0, 360], "range": [0, 6.283185307], "zero": false}},
                    "radius": {"field": "r1", "type": "quantitative", "scale": {"type": "linear", "domain": [0, 70], "range": [0, 70], "zero": true}},
                    "color": {"field": "c", "type": "nominal", "scale": {"domain": ["n", "TPS2", "TPS5"], "range": ["#c8c800", "#ff0000", "#008000"]},
                      "legend": {"title": null, "orient": "top-left", "offset": 0, "values": ["TPS2", "TPS5"], "symbolType": "M-1.6,-0.6H1.6V0.6H-1.6Z", "symbolSize": 100, "symbolStrokeColor": "#000", "symbolStrokeWidth": 0.8, "symbolOpacity": 1, "labelFont": "DejaVu Sans", "labelFontSize": 8.5, "labelOffset": 9, "rowPadding": 1, "labelColor": "#000"}}
                  }
                },
                {
                  "data": {"name": "sectors"},
                  "mark": {"type": "text", "fontSize": 4, "font": "DejaVu Sans", "radiusOffset": -3, "baseline": "middle", "align": "center"},
                  "encoding": {
                    "theta": {"field": "am", "type": "quantitative", "stack": null, "scale": {"type": "linear", "domain": [0, 360], "range": [0, 6.283185307], "zero": false}},
                    "radius": {"field": "ro", "type": "quantitative", "scale": {"type": "linear", "domain": [0, 70], "range": [0, 70], "zero": true}},
                    "text": {"field": "l"},
                    "fill": {"field": "lab", "type": "nominal",
                      "scale": {"domain": ["a: f__unidentified_Bacteroidales", "b: f__Ruminococcaceae", "c: f__Erysipelotrichaceae", "d: o__Erysipelotrichales", "e: c__Erysipelotrichia", "f: f__Moraxellaceae"], "range": ["#ff0000", "#109020", "#109020", "#109020", "#109020", "#ff0000"]},
                      "legend": {"title": null, "orient": "none", "legendX": 123, "legendY": 0, "symbolType": "M-1,-0.38H1V0.38H-1Z", "symbolSize": 70, "symbolStrokeColor": "#000", "symbolStrokeWidth": 0.6, "symbolOpacity": 1, "labelFont": "DejaVu Sans", "labelFontSize": 4.5, "labelOffset": 3, "rowPadding": 1.5, "labelColor": "#222"}}
                  }
                }
              ]
            }
          ]
        }
      ]
    }
  ]
}
